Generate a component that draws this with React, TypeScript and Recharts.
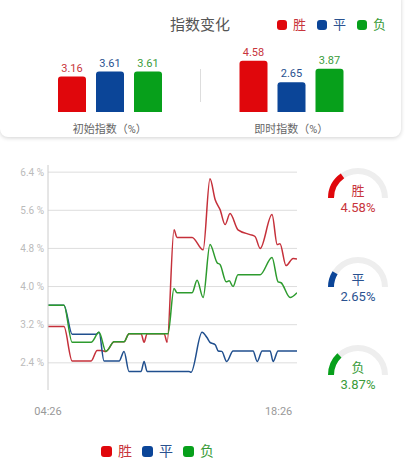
import React from 'react';
import {
    BarChart,
    Bar,
    XAxis,
    YAxis,
    LabelList,
    LineChart,
    Line,
    CartesianGrid,
    PieChart,
    Pie,
    Cell
} from 'recharts';

const FONT = 'Roboto, "Noto Sans CJK SC", sans-serif';

// series: 胜 / 平 / 负
const seriesNames = ['胜', '平', '负'];
const seriesKeys = ['win', 'draw', 'lose'];
const barColors = ['#e0070c', '#0b4598', '#07a01b'];
const textColors = ['#c8353c', '#2a5290', '#3a9c3a'];
const lineColors = ['#c5303a', '#204f8e', '#2d9b2e'];

// top bar chart
const groupLabels = ['初始指数（%）', '即时指数（%）'];
const initialValues = [3.16, 3.61, 3.61];
const liveValues = [4.58, 2.65, 3.87];

// line chart
const yTicks = [2.4, 3.2, 4.0, 4.8, 5.6, 6.4];
const xTickLabels = ['04:26', '18:26'];

const winTimes = ['04:26', '05:24', '05:54', '07:03', '07:25', '07:39', '07:57', '08:27', '09:03', '09:21', '10:05', '10:16', '10:27', '11:29', '11:40', '12:05', '12:16', '13:11', '13:51', '14:16', '14:35', '14:53', '15:11', '15:29', '15:58', '16:42', '17:00', '17:19', '18:02', '18:21', '18:31', '18:53', '19:19', '19:33'];
const winValues = [3.16, 3.16, 2.44, 2.44, 2.66, 2.66, 2.64, 2.84, 2.84, 3.01, 3.01, 2.83, 3.01, 3.01, 2.83, 5.19, 5.03, 5.03, 4.77, 6.26, 5.82, 5.61, 5.30, 5.53, 5.19, 5.09, 5.05, 4.80, 5.51, 4.88, 4.90, 4.44, 4.59, 4.58];

const drawTimes = ['04:26', '05:24', '05:54', '07:21', '07:32', '07:50', '08:45', '09:03', '09:21', '10:05', '10:16', '10:27', '13:00', '13:07', '13:47', '14:05', '14:16', '14:35', '14:46', '14:59', '15:17', '15:40', '16:53', '17:08', '17:26', '17:55', '18:06', '18:24', '19:33'];
const drawValues = [3.61, 3.61, 3.00, 3.00, 3.04, 2.44, 2.44, 2.64, 2.22, 2.22, 2.43, 2.22, 2.22, 2.20, 3.04, 2.93, 2.83, 2.78, 2.65, 2.64, 2.43, 2.65, 2.65, 2.43, 2.65, 2.65, 2.43, 2.65, 2.65];

const loseTimes = ['04:26', '05:24', '05:54', '07:03', '07:32', '07:57', '08:27', '09:03', '09:21', '11:43', '12:05', '12:16', '13:11', '13:29', '13:51', '14:16', '14:42', '14:53', '15:15', '15:26', '15:40', '15:58', '17:19', '18:02', '18:24', '18:35', '19:08', '19:33'];
const loseValues = [3.61, 3.61, 2.83, 2.83, 3.04, 2.64, 2.84, 2.84, 3.01, 3.01, 3.96, 3.87, 3.87, 4.13, 3.77, 4.88, 4.50, 4.46, 4.10, 4.12, 4.00, 4.25, 4.25, 4.61, 4.10, 4.08, 3.77, 3.87];

// gauges
const gaugeMax = 15;

const toMin = (s: string) => {
    const [h, m] = s.split(':').map(Number);
    return h * 60 + m;
};
const toLabel = (v: number) => {
    const h = Math.floor(v / 60);
    const m = v % 60;
    return `${String(h).padStart(2, '0')}:${String(m).padStart(2, '0')}`;
};

const barData = groupLabels.map((name, i) => {
    const vals = i === 0 ? initialValues : liveValues;
    const row: any = { name };
    seriesKeys.forEach((k, j) => (row[k] = vals[j]));
    return row;
});

const buildSeries = (times: string[], values: number[]) =>
    times.map((t, i) => ({ t: toMin(t), v: values[i] }));

const lineSeries = [
    buildSeries(winTimes, winValues),
    buildSeries(drawTimes, drawValues),
    buildSeries(loseTimes, loseValues)
];

const LegendRow = ({ left, top, size, fontSize, gap }: any) => (
    <div style={{ position: 'absolute', left, top, display: 'flex', alignItems: 'center', fontFamily: FONT }}>
        {seriesNames.map((n, i) => (
            <div key={n} style={{ display: 'flex', alignItems: 'center', marginRight: gap }}>
                <span style={{ width: size, height: size, borderRadius: 3, background: barColors[i], display: 'inline-block', marginRight: 6 }} />
                <span style={{ fontSize, color: textColors[i], lineHeight: `${fontSize + 4}px` }}>{n}</span>
            </div>
        ))}
    </div>
);

const Gauge = ({ index, value, centerY }: any) => {
    const cx = 40;
    const cy = 36;
    return (
        <div style={{ position: 'absolute', left: 318, top: centerY - cy, width: 80, height: 60 }}>
            <PieChart width={80} height={44} margin={{ top: 0, right: 0, bottom: 0, left: 0 }}>
                <Pie
                    data={[{ v: 1 }]}
                    dataKey="v"
                    cx={cx}
                    cy={cy}
                    innerRadius={24}
                    outerRadius={30}
                    startAngle={180}
                    endAngle={0}
                    fill="#eeeeee"
                    stroke="none"
                    isAnimationActive={false}
                />
                <Pie
                    data={[{ v: value }, { v: gaugeMax - value }]}
                    dataKey="v"
                    cx={cx}
                    cy={cy}
                    innerRadius={24}
                    outerRadius={30}
                    startAngle={180}
                    endAngle={0}
                    stroke="none"
                    isAnimationActive={false}
                >
                    <Cell fill={barColors[index]} />
                    <Cell fill="transparent" />
                </Pie>
            </PieChart>
            <div style={{ position: 'absolute', left: 0, width: 80, top: cy - 16, textAlign: 'center', fontSize: 13, lineHeight: '18px', color: textColors[index], fontFamily: FONT }}>
                {seriesNames[index]}
            </div>
            <div style={{ position: 'absolute', left: 0, width: 80, top: cy + 1, textAlign: 'center', fontSize: 13, lineHeight: '18px', color: textColors[index], fontFamily: FONT }}>
                {value.toFixed(2)}%
            </div>
        </div>
    );
};

export default function App() {
    return (
        <div style={{ position: 'absolute', left: 0, top: 0, width: 406, height: 472, background: '#fff', fontFamily: FONT, overflow: 'hidden' }}>
            {/* top card */}
            <div style={{ position: 'absolute', left: 0, top: -8, width: 401, height: 145, borderRadius: 8, background: '#fff', boxShadow: '0 1px 4px rgba(0,0,0,0.18)' }} />
            <div style={{ position: 'absolute', left: 0, top: 15, width: 400, textAlign: 'center', fontSize: 15, lineHeight: '20px', color: '#555' }}>
                指数变化
            </div>
            <LegendRow left={277} top={16} size={10} fontSize={13} gap={11} />
            <div style={{ position: 'absolute', left: 200, top: 69, width: 1, height: 33, background: '#ddd' }} />
            <div style={{ position: 'absolute', left: 0, top: 0 }}>
                <BarChart
                    width={400}
                    height={140}
                    data={barData}
                    margin={{ top: 56, right: 18, left: 19, bottom: 0 }}
                    barSize={28}
                    barGap={10}
                >
                    <XAxis
                        dataKey="name"
                        height={28}
                        tickLine={false}
                        axisLine={false}
                        tickMargin={7}
                        tick={{ fontSize: 11, fill: '#666' }}
                    />
                    <YAxis hide domain={[0, 5]} />
                    {seriesKeys.map((k, i) => (
                        <Bar key={k} dataKey={k} fill={barColors[i]} radius={[3, 3, 0, 0]} isAnimationActive={false}>
                            <LabelList dataKey={k} position="top" offset={5} fontSize={11} fill={textColors[i]} />
                        </Bar>
                    ))}
                </BarChart>
            </div>

            {/* line chart */}
            <div style={{ position: 'absolute', left: 0, top: 155 }}>
                <LineChart width={300} height={265} margin={{ top: 10, right: 3, left: 8, bottom: 0 }}>
                    <CartesianGrid vertical={false} stroke="#dddddd" syncWithTicks />
                    <XAxis
                        type="number"
                        dataKey="t"
                        domain={[toMin('04:26'), toMin('19:33')]}
                        ticks={xTickLabels.map(toMin)}
                        tickFormatter={toLabel}
                        height={30}
                        axisLine={false}
                        tickLine={false}
                        tickMargin={11}
                        tick={{ fontSize: 11, fill: '#999' }}
                        allowDataOverflow
                    />
                    <YAxis
                        width={40}
                        domain={[1.83, 6.55]}
                        ticks={yTicks}
                        tickFormatter={(v: number) => `${v.toFixed(1)} %`}
                        axisLine={{ stroke: '#cccccc' }}
                        tickLine={false}
                        tickSize={0}
                        tickMargin={4}
                        tick={{ fontSize: 10, fill: '#bbbbbb' }}
                        allowDataOverflow
                    />
                    {[0, 1, 2].map(i => (
                        <Line
                            key={seriesKeys[i]}
                            data={lineSeries[i]}
                            dataKey="v"
                            type="monotone"
                            stroke={lineColors[i]}
                            strokeWidth={1.5}
                            dot={false}
                            isAnimationActive={false}
                        />
                    ))}
                </LineChart>
            </div>
            <LegendRow left={101} top={442} size={11} fontSize={14} gap={10} />

            {/* gauges */}
            <Gauge index={0} value={liveValues[0]} centerY={198} />
            <Gauge index={1} value={liveValues[1]} centerY={287} />
            <Gauge index={2} value={liveValues[2]} centerY={375} />
        </div>
    );
}
